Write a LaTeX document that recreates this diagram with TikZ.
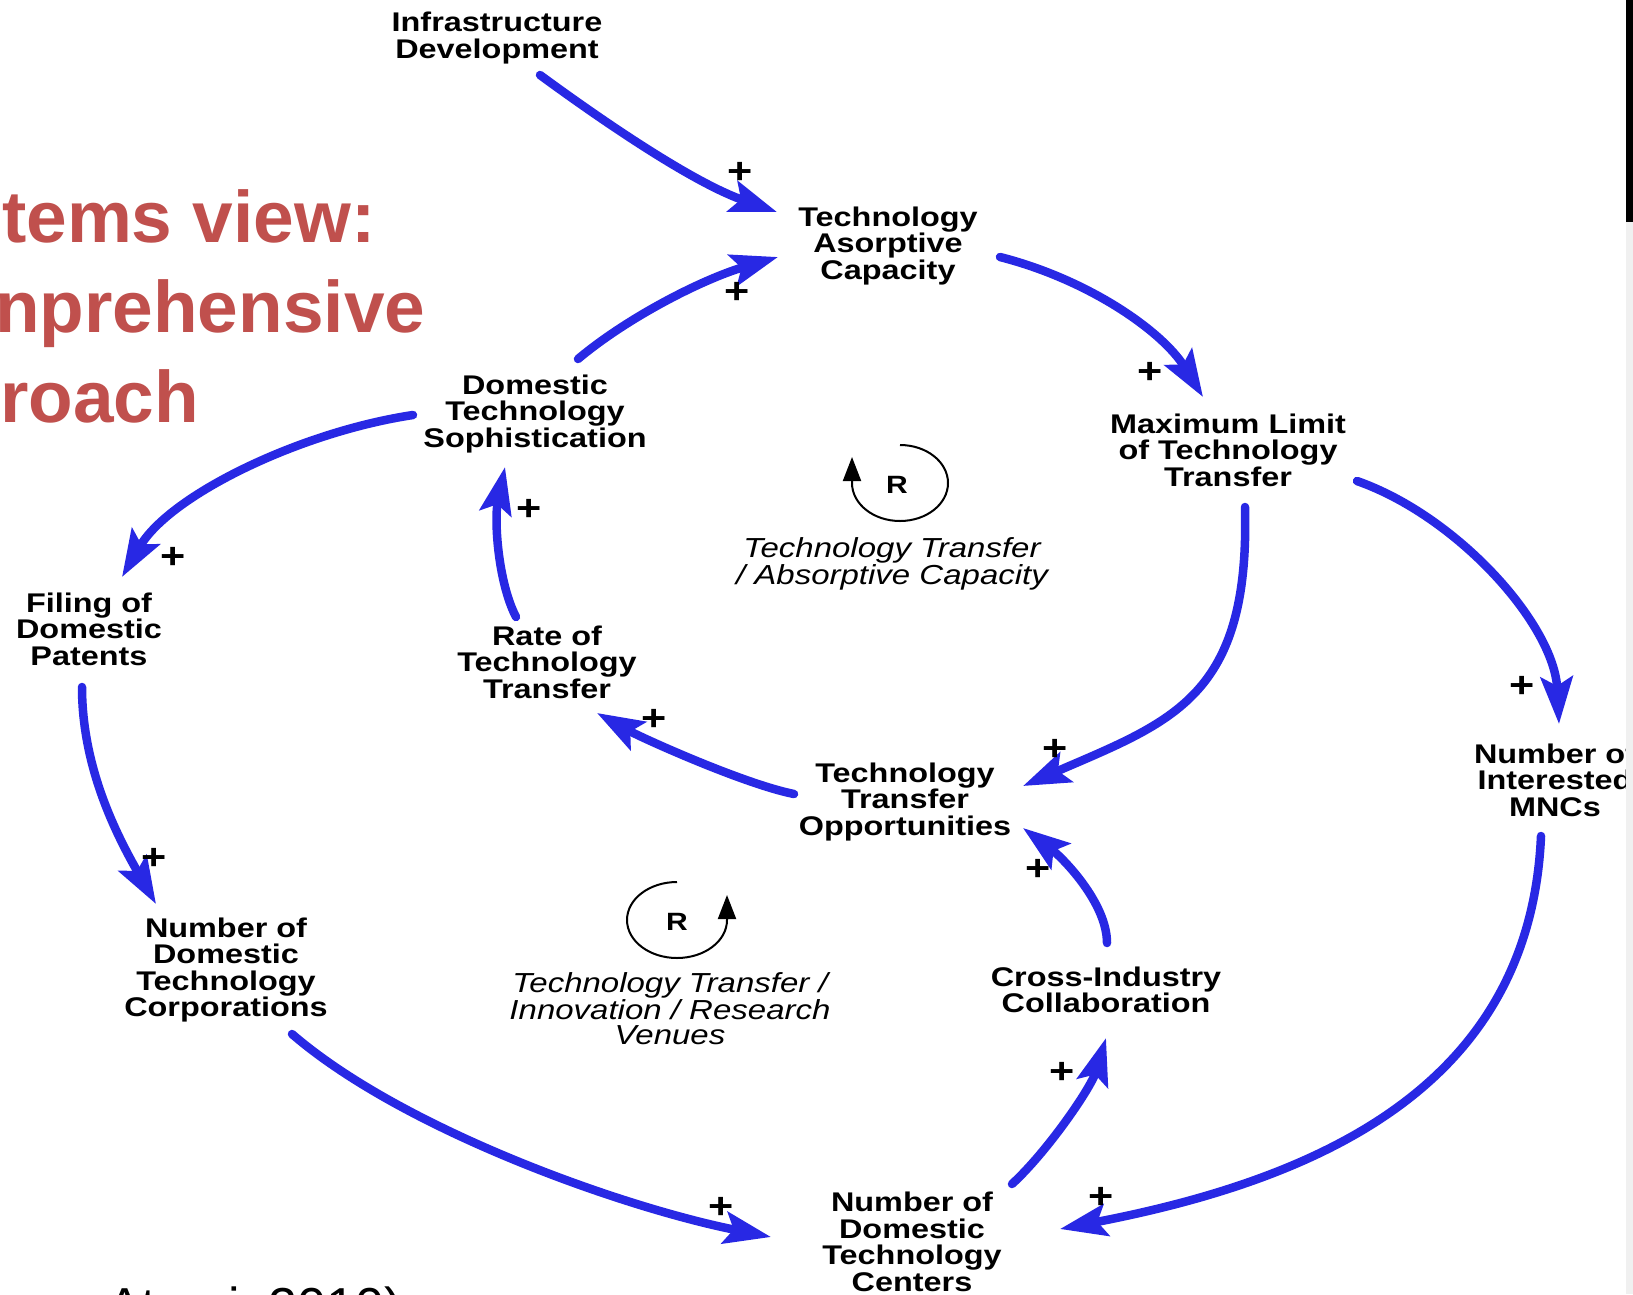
\documentclass[tikz,border=0pt]{standalone}
\usepackage{fontspec}
\setmainfont{Liberation Sans}
\newfontfamily\lblfont{Liberation Sans}[FakeStretch=1.2]
\usetikzlibrary{arrows.meta}
\definecolor{cldblue}{RGB}{40,40,228}
\definecolor{titlered}{RGB}{192,80,77}
\begin{document}
\begin{tikzpicture}[x=1pt,y=-1pt,
  var/.style={align=center, inner sep=0pt, font=\lblfont\bfseries\fontsize{27}{26.5}\selectfont},
  pol/.style={inner sep=0pt, font=\lblfont\bfseries\fontsize{36}{36}\selectfont},
  link/.style={draw=cldblue, line width=8.5pt, line cap=round, -{Stealth[length=47pt,width=32pt,inset=9pt]}},
  loopname/.style={align=center, inner sep=0pt, font=\lblfont\itshape\fontsize{27.5}{25.5}\selectfont},
  looptag/.style={inner sep=0pt, font=\lblfont\bfseries\fontsize{25}{25}\selectfont},
  loopsym/.style={draw=black, line width=2pt, -{Triangle[length=24pt,width=18pt]}},
  titletext/.style={anchor=base west, inner sep=0pt, text=titlered, font=\bfseries\fontsize{73}{73}\selectfont}
]
\useasboundingbox (0,0) rectangle (1633,1294);
\fill[white] (0,0) rectangle (1633,1294);
\begin{scope}
\clip (0,0) rectangle (1626,1294);
% title fragments
\node[titletext] (t1) at (2,242) {tems view:};
\node[titletext] (t2) at (-5,332) {nprehensive};
\node[titletext] (t3) at (0,422) {roach};
\node[anchor=base west, inner sep=0pt, font=\fontsize{52}{52}\selectfont] (cite) at (107,1324) {Atzori, 2010)};

% variables
\node[var] (infra) at (497,38) {Infrastructure\\Development};
\node[var] (tac) at (888,246) {Technology\\Asorptive\\Capacity};
\node[var] (maxl) at (1228,450) {Maximum Limit\\of Technology\\Transfer};
\node[var] (dts) at (535,414) {Domestic\\Technology\\Sophistication};
\node[var] (fdp) at (89,629) {Filing of\\Domestic\\Patents};
\node[var] (rtt) at (547,662) {Rate of\\Technology\\Transfer};
\node[var] (tto) at (905,802) {Technology\\Transfer\\Opportunities};
\node[var] (mnc) at (1555,780) {Number of\\Interested\\MNCs};
\node[var] (corp) at (226,970) {Number of\\Domestic\\Technology\\Corporations};
\node[var] (cic) at (1106,990) {Cross-Industry\\Collaboration};
\node[var] (cent) at (912,1242) {Number of\\Domestic\\Technology\\Centers};

% links
\draw[link] ([shift={(43,37)}]infra.center) .. controls +(75,55) and +(-80,-28) .. ([shift={(-111,-34)}]tac.center);
\draw[link] ([shift={(43,-55)}]dts.center) .. controls +(50,-42) and +(-75,22) .. ([shift={(-110,11)}]tac.center);
\draw[link] ([shift={(112,11)}]tac.center) .. controls +(90,23) and +(-40,-65) .. ([shift={(-25,-53)}]maxl.center);
\draw[link] ([shift={(129,31)}]maxl.center) .. controls +(100,35) and +(-5,-100) .. ([shift={(4,-56)}]mnc.center);
\draw[link] ([shift={(17,57)}]maxl.center) .. controls +(5,190) and +(150,-65) .. ([shift={(118,-16)}]tto.center);
\draw[link] ([shift={(-14,56)}]mnc.center) .. controls +(-11,250) and +(260,-50) .. ([shift={(148,-13)}]cent.center);
\draw[link] ([shift={(100,-58)}]cent.center) .. controls +(35,-32) and +(-15,50) .. ([shift={(0,48)}]cic.center);
\draw[link] ([shift={(1,-47)}]cic.center) .. controls +(0,-40) and +(40,30) .. ([shift={(118,26)}]tto.center);
\draw[link] ([shift={(-111,-8)}]tto.center) .. controls +(-50,-10) and +(45,25) .. ([shift={(50,51)}]rtt.center);
\draw[link] ([shift={(-31,-45)}]rtt.center) .. controls +(-18,-35) and +(-11,53) .. ([shift={(-30,53)}]dts.center);
\draw[link] ([shift={(-122,1)}]dts.center) .. controls +(-113,17) and +(48,-82) .. ([shift={(33,-52)}]fdp.center);
\draw[link] ([shift={(-7,58)}]fdp.center) .. controls +(0,80) and +(-40,-70) .. ([shift={(-70,-66)}]corp.center);
\draw[link] ([shift={(66,64)}]corp.center) .. controls +(110,95) and +(-150,-30) .. ([shift={(-141,-5)}]cent.center);

% polarities
\node[pol] (p1) at (740,173) {+};
\node[pol] (p2) at (737,293) {+};
\node[pol] (p3) at (1150,373) {+};
\node[pol] (p4) at (1522,687) {+};
\node[pol] (p5) at (1055,750) {+};
\node[pol] (p6) at (1101,1198) {+};
\node[pol] (p7) at (1062,1073) {+};
\node[pol] (p8) at (1038,870) {+};
\node[pol] (p9) at (654,720) {+};
\node[pol] (p10) at (529,510) {+};
\node[pol] (p11) at (173,558) {+};
\node[pol] (p12) at (154,859) {+};
\node[pol] (p13) at (721,1208) {+};

% loop symbols
\draw[loopsym] (900,445) arc[start angle=-90, end angle=180, x radius=48, y radius=38] -- (852,457);
\node[looptag] (r1) at (897,485) {R};
\node[loopname] (l1) at (892,564) {Technology Transfer\\/ Absorptive Capacity};
\draw[loopsym] (677,882) arc[start angle=-90, end angle=-360, x radius=50, y radius=38] -- (727,895);
\node[looptag] (r2) at (677,922) {R};
\node[loopname] (l2) at (670,1009) {Technology Transfer /\\Innovation / Research\\Venues};
\end{scope}
% right slide edge
\fill[gray!12] (1626,0) rectangle (1633,1294);
\fill[black] (1626,0) rectangle (1633,222);
\end{tikzpicture}
\end{document}
